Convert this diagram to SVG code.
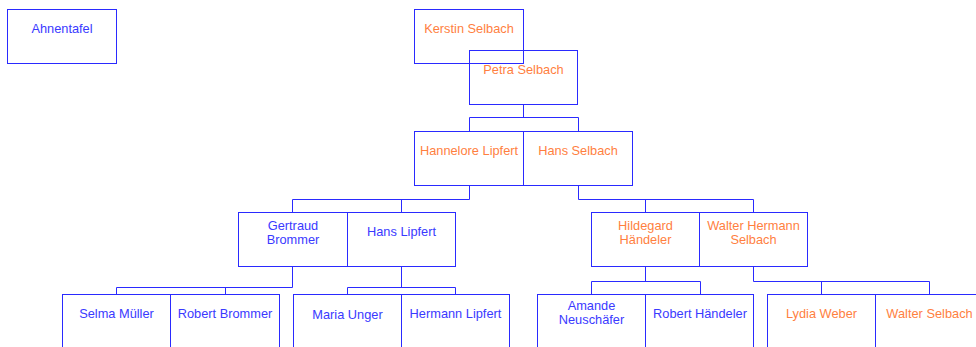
<svg xmlns="http://www.w3.org/2000/svg" width="976" height="347" viewBox="0 0 976 347">
<style>
rect.b{fill:none;stroke:#2a2aff;stroke-width:1}
.c polyline,.c line{fill:none;stroke:#2a2aff;stroke-width:1}
text{font-family:"Liberation Sans",Arial,sans-serif;font-size:12.8px;text-anchor:middle}
.bl{fill:#3a3aff}
.or{fill:#ff7f3f}
</style>
<rect width="976" height="347" fill="#ffffff"/>
<g class="c" id="connectors">
<polyline points="523.5,104.5 523.5,117.5"/>
<polyline points="469.5,131.5 469.5,117.5 578.5,117.5 578.5,131.5"/>
<polyline points="469.5,185.5 469.5,199.5 292.5,199.5 292.5,212.5"/>
<line x1="401.5" y1="199.5" x2="401.5" y2="212.5"/>
<polyline points="578.5,185.5 578.5,199.5 753.5,199.5 753.5,212.5"/>
<line x1="645.5" y1="199.5" x2="645.5" y2="212.5"/>
<polyline points="292.5,266.5 292.5,287.5 116.5,287.5 116.5,294.5"/>
<line x1="225.5" y1="287.5" x2="225.5" y2="294.5"/>
<polyline points="401.5,266.5 401.5,287.5"/>
<polyline points="347.5,294.5 347.5,287.5 455.5,287.5 455.5,294.5"/>
<polyline points="645.5,266.5 645.5,281.5"/>
<polyline points="591.5,294.5 591.5,281.5 700.5,281.5 700.5,294.5"/>
<polyline points="753.5,266.5 753.5,281.5 929.5,281.5 929.5,294.5"/>
<line x1="821.5" y1="281.5" x2="821.5" y2="294.5"/>
</g>
<g id="ahnentafel"><rect class="b" x="7.5" y="9.5" width="109" height="54"/><text class="bl" x="62" y="33">Ahnentafel</text></g>
<g id="kerstin"><rect class="b" x="414.5" y="9.5" width="109" height="54"/><text class="or" x="469" y="33">Kerstin Selbach</text></g>
<g id="petra"><rect class="b" x="469.5" y="50.5" width="108" height="54"/><text class="or" x="523.5" y="74">Petra Selbach</text></g>
<g id="hannelore"><rect class="b" x="414.5" y="131.5" width="109" height="54"/><text class="or" x="469" y="155">Hannelore Lipfert</text></g>
<g id="hans-selbach"><rect class="b" x="523.5" y="131.5" width="109" height="54"/><text class="or" x="578" y="155">Hans Selbach</text></g>
<g id="gertraud"><rect class="b" x="238.5" y="212.5" width="109" height="54"/><text class="bl" x="293" y="229.5"><tspan x="293">Gertraud</tspan><tspan x="293" dy="14">Brommer</tspan></text></g>
<g id="hans-lipfert"><rect class="b" x="347.5" y="212.5" width="108" height="54"/><text class="bl" x="401.5" y="236">Hans Lipfert</text></g>
<g id="hildegard"><rect class="b" x="591.5" y="212.5" width="108" height="54"/><text class="or" x="645.5" y="229.5"><tspan x="645.5">Hildegard</tspan><tspan x="645.5" dy="14">Händeler</tspan></text></g>
<g id="walter-hermann"><rect class="b" x="699.5" y="212.5" width="108" height="54"/><text class="or" x="753.5" y="229.5"><tspan x="753.5">Walter Hermann</tspan><tspan x="753.5" dy="14">Selbach</tspan></text></g>
<g id="selma"><rect class="b" x="62.5" y="294.5" width="108" height="54"/><text class="bl" x="116.5" y="318">Selma Müller</text></g>
<g id="robert-brommer"><rect class="b" x="170.5" y="294.5" width="109" height="54"/><text class="bl" x="225" y="318">Robert Brommer</text></g>
<g id="maria"><rect class="b" x="293.5" y="294.5" width="108" height="54"/><text class="bl" x="347.5" y="318.5">Maria Unger</text></g>
<g id="hermann"><rect class="b" x="401.5" y="294.5" width="108" height="54"/><text class="bl" x="455.5" y="318">Hermann Lipfert</text></g>
<g id="amande"><rect class="b" x="537.5" y="294.5" width="108" height="54"/><text class="bl" x="591.5" y="310"><tspan x="591.5">Amande</tspan><tspan x="591.5" dy="14">Neuschäfer</tspan></text></g>
<g id="robert-haendeler"><rect class="b" x="645.5" y="294.5" width="108" height="54"/><text class="bl" x="700" y="318">Robert Händeler</text></g>
<g id="lydia"><rect class="b" x="767.5" y="294.5" width="108" height="54"/><text class="or" x="821.5" y="318">Lydia Weber</text></g>
<g id="walter-selbach"><rect class="b" x="875.5" y="294.5" width="108" height="54"/><text class="or" x="929.5" y="318">Walter Selbach</text></g>
</svg>
